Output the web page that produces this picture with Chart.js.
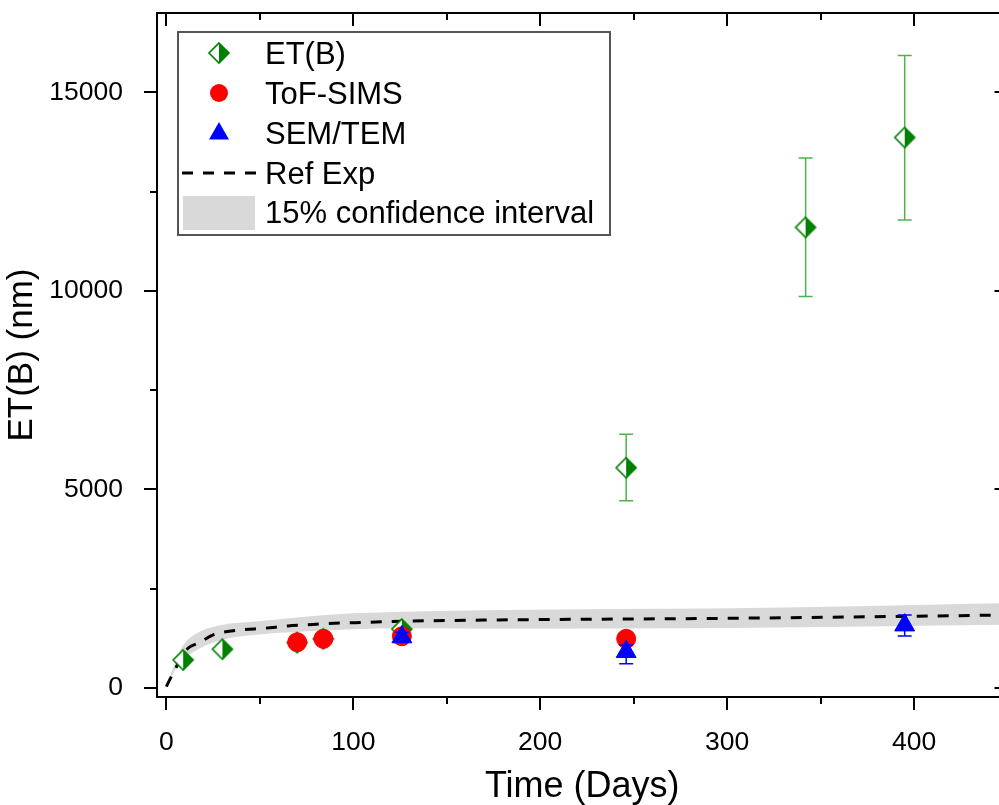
<!DOCTYPE html>
<html><head><meta charset="utf-8">
<script src="https://cdn.jsdelivr.net/npm/chart.js@4.4.1/dist/chart.umd.min.js"></script>
<style>
html,body{margin:0;padding:0;overflow:hidden;background:#fff;}
#wrap{position:absolute;left:0;top:0;width:1020px;height:805px;}
</style>
</head><body>
<div id="wrap"><canvas id="c"></canvas></div>
<script>
// ---------- data ----------
const etDays    = [9, 30, 70, 84, 126, 246, 342, 395];
const etValues  = [705, 975, 1140, 1235, 1480, 5545, 11600, 13865];
const etErrLow  = [null, null, null, null, null, 4715, 9860, 11785];
const etErrHigh = [null, null, null, null, null, 6390, 13345, 15930];

const tofDays   = [70, 84, 126, 246];
const tofValues = [1150, 1235, 1300, 1235];

const semDays    = [126, 246, 395];
const semValues  = [1280, 910, 1580];
const semErrLow  = [1150, 605, 1308];
const semErrHigh = [1400, 1080, 1837];

const refDays   = [0, 4.5, 9, 11.6, 17, 25, 29.5, 40, 52.6, 65, 74, 90, 108, 118, 178, 303, 436, 450];
const refValues = [33, 453, 830, 998, 1125, 1334, 1392, 1460, 1502, 1560, 1585, 1627, 1652, 1669, 1711, 1753, 1828, 1840];

const bandDays  = [0, 4, 8, 17, 29.5, 47, 74, 100, 126, 178, 302, 450];
const bandUpper = [40, 560, 1006, 1392, 1585, 1669, 1794, 1879, 1920, 1963, 2005, 2140];
const bandLower = [25, 380, 662, 974, 1208, 1334, 1417, 1477, 1502, 1490, 1510, 1590];

const xMajorTicks = [0, 100, 200, 300, 400];
const xMinorTicks = [50, 150, 250, 350];
const yMajorTicks = [0, 5000, 10000, 15000];
const yMinorTicks = [2500, 7500, 12500];

const legendLabels = ['ET(B)', 'ToF-SIMS', 'SEM/TEM', 'Ref Exp', '15% confidence interval'];
const xTitle = 'Time (Days)';
const yTitle = 'ET(B) (nm)';

// ---------- helpers ----------
const pts = (xs, ys) => xs.map((x, i) => ({x: x, y: ys[i]}));
const FONT = '"Liberation Sans", Arial, sans-serif';
const GREEN = '#008000';

function makeDiamond() {
  const c = document.createElement('canvas');
  c.width = 24; c.height = 24;
  const g = c.getContext('2d');
  const cx = 12, cy = 12, r = 10;
  g.beginPath(); g.moveTo(cx, cy - r); g.lineTo(cx - r, cy); g.lineTo(cx, cy + r); g.closePath();
  g.fillStyle = '#ffffff'; g.fill();
  g.beginPath(); g.moveTo(cx, cy - r); g.lineTo(cx + r, cy); g.lineTo(cx, cy + r); g.closePath();
  g.fillStyle = GREEN; g.fill();
  g.beginPath(); g.moveTo(cx, cy - r); g.lineTo(cx + r, cy); g.lineTo(cx, cy + r); g.lineTo(cx - r, cy); g.closePath();
  g.strokeStyle = GREEN; g.lineWidth = 1.6; g.stroke();
  return c;
}
const diamondImg = makeDiamond();

// error bars drawn under each dataset's markers
const errorBars = {
  id: 'errorBars',
  beforeDatasetDraw(chart, args) {
    const ds = chart.data.datasets[args.index];
    if (!ds.errLow) return;
    const ctx = chart.ctx, xs = chart.scales.x, ys = chart.scales.y;
    ctx.save();
    ctx.strokeStyle = ds.errColor; ctx.lineWidth = 1.5;
    ds.data.forEach((p, i) => {
      const lo = ds.errLow[i], hi = ds.errHigh[i];
      if (lo == null || hi == null) return;
      const px = xs.getPixelForValue(p.x);
      const y1 = ys.getPixelForValue(lo), y2 = ys.getPixelForValue(hi);
      ctx.beginPath();
      ctx.moveTo(px, y1); ctx.lineTo(px, y2);
      ctx.moveTo(px - 7, y1); ctx.lineTo(px + 7, y1);
      ctx.moveTo(px - 7, y2); ctx.lineTo(px + 7, y2);
      ctx.stroke();
    });
    ctx.restore();
  }
};

// frame, inward/outward ticks and the legend box
const frameAndLegend = {
  id: 'frameAndLegend',
  afterDraw(chart) {
    const ctx = chart.ctx, a = chart.chartArea, xs = chart.scales.x, ys = chart.scales.y;
    ctx.save();
    ctx.strokeStyle = '#000'; ctx.lineWidth = 2;
    ctx.strokeRect(a.left, a.top, a.right - a.left, a.bottom - a.top);
    ctx.beginPath();
    const tickX = (v, len) => {
      const p = Math.round(xs.getPixelForValue(v));
      ctx.moveTo(p, a.bottom); ctx.lineTo(p, a.bottom + len);
      ctx.moveTo(p, a.top); ctx.lineTo(p, a.top + len);
    };
    const tickY = (v, len) => {
      const p = Math.round(ys.getPixelForValue(v));
      ctx.moveTo(a.left, p); ctx.lineTo(a.left - len, p);
      ctx.moveTo(a.right, p); ctx.lineTo(a.right - len, p);
    };
    xMajorTicks.forEach(v => tickX(v, 13));
    xMinorTicks.forEach(v => tickX(v, 7));
    yMajorTicks.forEach(v => tickY(v, 13));
    yMinorTicks.forEach(v => tickY(v, 7));
    ctx.stroke();

    // legend
    const L = 178, T = 32, R = 610, B = 235;
    ctx.fillStyle = '#fff';
    ctx.fillRect(L, T, R - L, B - T);
    ctx.strokeStyle = '#555'; ctx.lineWidth = 2;
    ctx.strokeRect(L, T, R - L, B - T);
    const rows = [53, 93, 133, 173, 212];
    const mx = 219;
    ctx.drawImage(diamondImg, mx - 12, rows[0] - 12);
    ctx.fillStyle = '#ff0000';
    ctx.beginPath(); ctx.arc(mx, rows[1], 9, 0, Math.PI * 2); ctx.fill();
    ctx.fillStyle = '#0000ff';
    ctx.beginPath();
    ctx.moveTo(mx, rows[2] - 11); ctx.lineTo(mx + 10, rows[2] + 6.5); ctx.lineTo(mx - 10, rows[2] + 6.5); ctx.closePath(); ctx.fill();
    ctx.strokeStyle = '#000'; ctx.lineWidth = 3; ctx.setLineDash([11, 10]);
    ctx.beginPath(); ctx.moveTo(182, rows[3]); ctx.lineTo(257, rows[3]); ctx.stroke();
    ctx.setLineDash([]);
    ctx.fillStyle = '#d9d9d9';
    ctx.fillRect(183, 196, 72, 34);
    ctx.fillStyle = '#000';
    ctx.font = '31px ' + FONT;
    ctx.textBaseline = 'alphabetic';
    ctx.textAlign = 'left';
    legendLabels.forEach((t, i) => ctx.fillText(t, 265, rows[i] + 11));
    ctx.restore();
  }
};

new Chart(document.getElementById('c'), {
  type: 'scatter',
  data: {
    datasets: [
      { label: legendLabels[2], data: pts(semDays, semValues), pointStyle: 'triangle', pointRadius: 11.5,
        backgroundColor: '#0000ff', borderColor: '#0000ff', borderWidth: 1,
        errLow: semErrLow, errHigh: semErrHigh, errColor: '#0000ff' },
      { label: legendLabels[1], data: pts(tofDays, tofValues), pointStyle: 'circle', pointRadius: 9.5,
        backgroundColor: '#ff0000', borderColor: '#ff0000', borderWidth: 1 },
      { label: legendLabels[0], data: pts(etDays, etValues), pointStyle: diamondImg, pointRadius: 10,
        errLow: etErrLow, errHigh: etErrHigh, errColor: '#4cb24c' },
      { label: legendLabels[3], type: 'line', data: pts(refDays, refValues), showLine: true,
        borderColor: '#000', borderWidth: 3, borderDash: [11, 10], pointRadius: 0,
        cubicInterpolationMode: 'monotone', fill: false },
      { label: 'band upper', type: 'line', data: pts(bandDays, bandUpper), showLine: true,
        borderWidth: 0, borderColor: 'rgba(0,0,0,0)', pointRadius: 0, cubicInterpolationMode: 'monotone',
        fill: '+1', backgroundColor: '#d9d9d9' },
      { label: 'band lower', type: 'line', data: pts(bandDays, bandLower), showLine: true,
        borderWidth: 0, borderColor: 'rgba(0,0,0,0)', pointRadius: 0, cubicInterpolationMode: 'monotone',
        fill: false }
    ]
  },
  options: {
    responsive: true,
    maintainAspectRatio: false,
    animation: false,
    devicePixelRatio: 1,
    layout: { padding: { top: 13, right: 11, left: 0, bottom: 0 } },
    plugins: { legend: { display: false }, tooltip: { enabled: false } },
    scales: {
      x: {
        type: 'linear', position: 'bottom', min: -5, max: 450,
        grid: { display: false }, border: { display: false },
        afterBuildTicks: s => { s.ticks = xMajorTicks.map(v => ({ value: v })); },
        afterFit: s => { s.height = 108; s.paddingLeft = 0; s.paddingRight = 0; },
        ticks: { color: '#000', font: { family: FONT, size: 26.5 }, padding: 22, maxRotation: 0,
                 callback: v => String(v) },
        title: { display: true, text: xTitle, color: '#000', font: { family: FONT, size: 36, lineHeight: 1 },
                 padding: { top: 0, bottom: 0 } }
      },
      y: {
        type: 'linear', position: 'left', min: -230, max: 17000,
        grid: { display: false }, border: { display: false },
        afterBuildTicks: s => { s.ticks = yMajorTicks.map(v => ({ value: v })); },
        afterFit: s => { s.width = 157; s.paddingTop = 0; s.paddingBottom = 0; },
        ticks: { color: '#000', font: { family: FONT, size: 26.5 }, padding: 26,
                 callback: v => String(v) },
        title: { display: true, text: yTitle, color: '#000', font: { family: FONT, size: 35, lineHeight: 1 },
                 padding: { top: 5, bottom: 0 } }
      }
    }
  },
  plugins: [errorBars, frameAndLegend]
});
</script>
</body></html>
